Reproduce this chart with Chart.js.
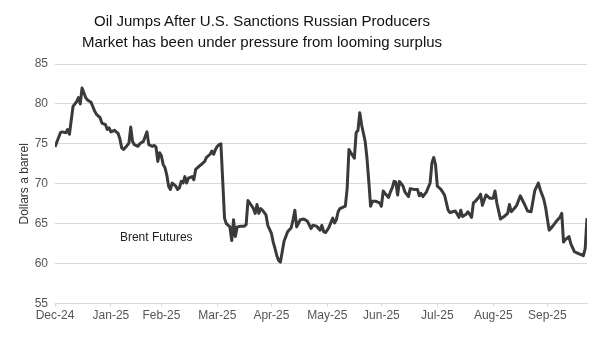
<!DOCTYPE html>
<html>
<head>
<meta charset="utf-8">
<script src="https://cdn.jsdelivr.net/npm/chart.js@4/dist/chart.umd.min.js"></script>
<style>
  body { margin: 0; background: #fff; }
  #wrap { position: relative; width: 600px; height: 353px; }
  #titulo {
    position: absolute; left: 0; top: 10px; width: 524px;
    text-align: center; font-family: 'Liberation Sans', Arial, sans-serif;
    font-size: 15px; line-height: 21px; color: #111;
  }
</style>
</head>
<body>
<div id="wrap">
  <canvas id="myChart"></canvas>
  <div id="titulo">Oil Jumps After U.S. Sanctions Russian Producers<br>Market has been under pressure from looming surplus</div>
</div>
<script>
// Meses del eje (etiquetas tal como aparecen) y dia en que empieza cada uno
const monthLabels = ['Dec-24', 'Jan-25', 'Feb-25', 'Mar-25', 'Apr-25', 'May-25', 'Jun-25', 'Jul-25', 'Aug-25', 'Sep-25'];
const monthStarts = [0, 31, 59, 90, 120, 151, 181, 212, 243, 273];

// Brent: dia (desde el inicio) y precio en dolares
const days = [0, 3, 4, 6, 7, 8, 10, 12, 13, 14, 15, 17, 18, 20, 22, 23, 25, 26, 28, 29, 30, 31, 33, 35, 36, 37, 38, 40, 41, 42, 43, 44, 46, 47, 49, 51, 52, 54, 55, 56, 57, 58, 59, 60, 61, 62, 63, 64, 65, 67, 68, 69, 70, 71, 72, 73, 74, 76, 77, 78, 80, 81, 82, 83, 84, 86, 87, 88, 89, 90, 91, 92, 93, 94, 95, 97, 98, 99, 100, 101, 103, 105, 106, 107, 108, 110, 111, 112, 113, 114, 115, 117, 118, 120, 121, 122, 123, 124, 125, 126, 127, 129, 131, 132, 133, 134, 136, 138, 140, 142, 143, 145, 147, 148, 149, 150, 151, 152, 154, 155, 156, 157, 158, 161, 162, 163, 164, 166, 167, 168, 169, 170, 172, 173, 174, 175, 176, 178, 180, 181, 182, 183, 185, 186, 187, 188, 189, 190, 191, 193, 194, 196, 197, 199, 201, 202, 203, 204, 206, 208, 209, 210, 211, 212, 214, 216, 218, 219, 222, 224, 225, 226, 228, 229, 231, 232, 233, 235, 236, 237, 239, 241, 243, 244, 245, 247, 249, 251, 252, 253, 255, 256, 258, 260, 262, 264, 266, 268, 269, 271, 272, 274, 276, 278, 280, 281, 282, 283, 285, 286, 288, 290, 291, 293, 294, 295];
const brent = [74.6, 76.4, 76.5, 76.4, 76.8, 76.2, 79.7, 80.3, 80.8, 80.0, 82.0, 80.8, 80.5, 80.2, 79.1, 78.7, 78.3, 77.6, 77.4, 76.8, 77.0, 76.5, 76.7, 76.3, 75.6, 74.5, 74.3, 74.8, 75.1, 77.1, 75.3, 74.9, 74.7, 75.0, 75.3, 76.5, 74.9, 74.7, 74.8, 74.6, 72.8, 73.9, 73.5, 72.4, 72.0, 71.1, 69.7, 69.3, 70.1, 69.7, 69.3, 69.5, 70.3, 70.1, 70.9, 70.1, 70.7, 70.9, 70.5, 71.8, 72.2, 72.4, 72.6, 72.8, 73.3, 73.7, 74.1, 73.7, 74.3, 74.7, 74.9, 75.0, 70.4, 65.7, 65.0, 64.6, 62.9, 65.5, 63.4, 64.6, 64.7, 64.7, 64.9, 67.9, 67.6, 66.9, 66.3, 67.4, 66.3, 66.9, 66.7, 66.1, 64.8, 63.8, 62.7, 61.9, 61.0, 60.4, 60.2, 61.5, 62.8, 64.0, 64.5, 65.5, 66.7, 64.6, 65.5, 65.6, 65.3, 64.4, 64.8, 64.7, 64.2, 64.8, 64.0, 63.9, 64.2, 64.6, 65.7, 65.1, 65.5, 66.5, 66.9, 67.2, 69.4, 74.3, 73.9, 73.2, 76.4, 76.7, 78.9, 77.4, 75.3, 73.2, 70.3, 67.2, 67.8, 67.8, 67.6, 67.2, 69.1, 68.8, 68.3, 69.0, 69.5, 70.3, 70.2, 68.6, 70.3, 69.7, 69.0, 68.4, 69.4, 69.3, 69.3, 68.5, 68.8, 68.4, 69.0, 70.1, 72.6, 73.3, 72.4, 69.7, 69.3, 68.6, 66.7, 66.4, 66.6, 65.8, 66.7, 65.9, 66.2, 66.5, 65.8, 67.6, 67.8, 68.3, 68.7, 67.3, 68.6, 68.2, 68.2, 69.1, 67.6, 65.6, 65.9, 66.3, 67.4, 66.5, 67.0, 67.3, 68.5, 67.6, 66.6, 66.5, 69.1, 70.1, 69.3, 68.1, 67.1, 64.2, 64.7, 65.3, 65.8, 66.3, 62.7, 63.0, 63.4, 62.5, 61.5, 61.3, 61.2, 61.0, 61.9, 65.7];

// Etiqueta de la serie dentro del grafico
const serieLabel = 'Brent Futures';
const labelAt = { x: 36, y: 63.3 };

const fuente = "'Liberation Sans', Arial, sans-serif";

const etiquetaSerie = {
    id: 'etiquetaSerie',
    afterDatasetsDraw(chart) {
        const { ctx, scales } = chart;
        ctx.save();
        ctx.font = '12px ' + fuente;
        ctx.fillStyle = '#222';
        ctx.textAlign = 'left';
        ctx.textBaseline = 'middle';
        ctx.fillText(serieLabel, scales.x.getPixelForValue(labelAt.x), scales.y.getPixelForValue(labelAt.y));
        ctx.restore();
    }
};

function crearGrafica() {
    const ctx = document.getElementById('myChart').getContext('2d');
    new Chart(ctx, {
        type: 'line',
        data: {
            datasets: [{
                label: serieLabel,
                data: days.map((d, i) => ({ x: d, y: brent[i] })),
                borderColor: '#3a3a3a',
                borderWidth: 3,
                pointRadius: 0,
                tension: 0,
                borderJoinStyle: 'round'
            }]
        },
        options: {
            responsive: true,
            maintainAspectRatio: false,
            animation: false,
            layout: { padding: { top: 64, right: 13, bottom: 28, left: 17 } },
            plugins: {
                legend: { display: false },
                tooltip: { enabled: false }
            },
            scales: {
                x: {
                    type: 'linear',
                    min: 0,
                    max: days[days.length - 1],
                    afterBuildTicks: axis => {
                        axis.ticks = monthStarts.map(v => ({ value: v }));
                    },
                    ticks: {
                        autoSkip: false,
                        maxRotation: 0,
                        padding: 2,
                        color: '#555',
                        font: { family: fuente, size: 12 },
                        callback: v => monthLabels[monthStarts.indexOf(v)]
                    },
                    grid: { drawOnChartArea: false, color: '#d9d9d9', tickLength: 3 },
                    border: { color: '#d9d9d9' }
                },
                y: {
                    min: 55,
                    max: 85,
                    afterFit: axis => { axis.width = 38; },
                    ticks: {
                        stepSize: 5,
                        padding: 7,
                        color: '#555',
                        font: { family: fuente, size: 12 }
                    },
                    grid: { color: '#d9d9d9', drawTicks: false },
                    border: { display: false },
                    title: {
                        display: true,
                        text: 'Dollars a barrel',
                        color: '#333',
                        font: { family: fuente, size: 12 },
                        padding: 0
                    }
                }
            }
        },
        plugins: [etiquetaSerie]
    });
}

document.addEventListener('DOMContentLoaded', crearGrafica);
</script>
</body>
</html>
